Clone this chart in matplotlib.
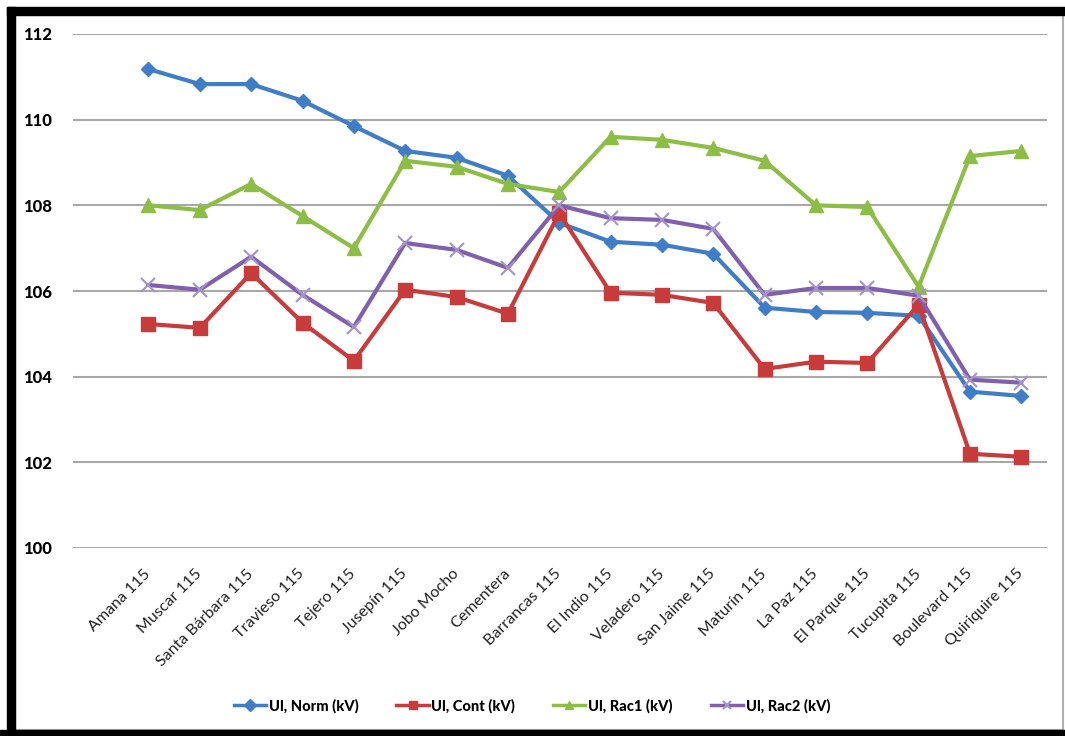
import matplotlib.pyplot as plt
from matplotlib.patches import Rectangle

# barras (subestaciones de 115 kV)
barras = ["Amana 115", "Muscar 115", "Santa Bárbara 115", "Travieso 115",
          "Tejero 115", "Jusepín 115", "Jobo Mocho", "Cementera",
          "Barrancas 115", "El Indio 115", "Veladero 115", "San Jaime 115",
          "Maturín 115", "La Paz 115", "El Parque 115", "Tucupita 115",
          "Boulevard 115", "Quiriquire 115"]

# tensiones en kV para cada escenario
u_norm = [111.18, 110.83, 110.83, 110.44, 109.85, 109.27, 109.11, 108.69,
          107.59, 107.15, 107.08, 106.87, 105.61, 105.51, 105.49, 105.42,
          103.65, 103.55]
u_cont = [105.23, 105.14, 106.42, 105.26, 104.37, 106.03, 105.86, 105.47,
          107.82, 105.96, 105.91, 105.72, 104.18, 104.35, 104.32, 105.68,
          102.20, 102.13]
u_rac1 = [108.00, 107.89, 108.50, 107.75, 107.00, 109.04, 108.90, 108.50,
          108.31, 109.60, 109.53, 109.34, 109.04, 108.00, 107.96, 106.10,
          109.15, 109.27]
u_rac2 = [106.14, 106.03, 106.80, 105.91, 105.16, 107.12, 106.96, 106.54,
          108.00, 107.70, 107.66, 107.45, 105.91, 106.07, 106.07, 105.89,
          103.93, 103.86]

series = ["Ul, Norm (kV)", "Ul, Cont (kV)", "Ul, Rac1 (kV)", "Ul, Rac2 (kV)"]
yticks = [100, 102, 104, 106, 108, 110, 112]

fig = plt.figure(figsize=(10.65, 7.36), dpi=100)
ax = fig.add_axes([73 / 1065, 1 - 548 / 736, (1047 - 73) / 1065, (548 - 34) / 736])

x = list(range(len(barras)))
l1, = ax.plot(x, u_norm, color="#3f7dc6", lw=3, marker="D", ms=7,
              mec="#3f7dc6", zorder=3)
l2, = ax.plot(x, u_cont, color="#c83b3b", lw=3, marker="s", ms=10,
              mec="#c83b3b", zorder=3)
l3, = ax.plot(x, u_rac1, color="#8cbd45", lw=3, marker="^", ms=10,
              mec="#8cbd45", zorder=3)
l4, = ax.plot(x, u_rac2, color="#8060ac", lw=3, marker="x", ms=10,
              mew=1.5, mec="#a592cc", zorder=3)

ax.set_xlim(-1.47, len(barras) - 0.5)
ax.set_ylim(100, 112)
ax.set_yticks(yticks)
ax.set_yticklabels([str(v) for v in yticks], fontsize=12, fontweight="black",
                   family="Lato")
ax.yaxis.grid(True, color="#a8a8a8", lw=1.5)
ax.set_axisbelow(True)
ax.tick_params(axis="both", length=0)
ax.tick_params(axis="y", pad=15)
for s in ax.spines.values():
    s.set_visible(False)

ax.set_xticks(x)
ax.set_xticklabels(barras, rotation=45, ha="right", va="center",
                   rotation_mode="anchor", fontsize=11.5, family="Lato",
                   color="#222222")
ax.tick_params(axis="x", pad=17)

leg = fig.legend([l1, l2, l3, l4], series, loc="center",
                 bbox_to_anchor=(532 / 1065, 1 - 706 / 736), ncol=4,
                 frameon=False, handlelength=2.2, handletextpad=0.2,
                 columnspacing=2.6, prop={"family": "Lato", "weight": "black",
                                          "size": 10.5})
for h in leg.legend_handles:
    h.set_markersize(6)
    h.set_linewidth(2.5)

# marco negro
fig.patches.append(Rectangle((7 / 1065, 0), 8 / 1065, 1 - 7 / 736,
                             transform=fig.transFigure, color="black",
                             zorder=10))
fig.patches.append(Rectangle((7 / 1065, 1 - 15 / 736), 1, 8 / 736,
                             transform=fig.transFigure, color="black",
                             zorder=10))
fig.patches.append(Rectangle((0, 0), 1, 6 / 736,
                             transform=fig.transFigure, color="black",
                             zorder=10))
fig.patches.append(Rectangle((15 / 1065, 6 / 736), (1063 - 15) / 1065,
                             (736 - 21) / 736, transform=fig.transFigure,
                             fill=False, ec="#b0b0b0", lw=1.5, zorder=9))

fig.savefig("out.png", dpi=100)
